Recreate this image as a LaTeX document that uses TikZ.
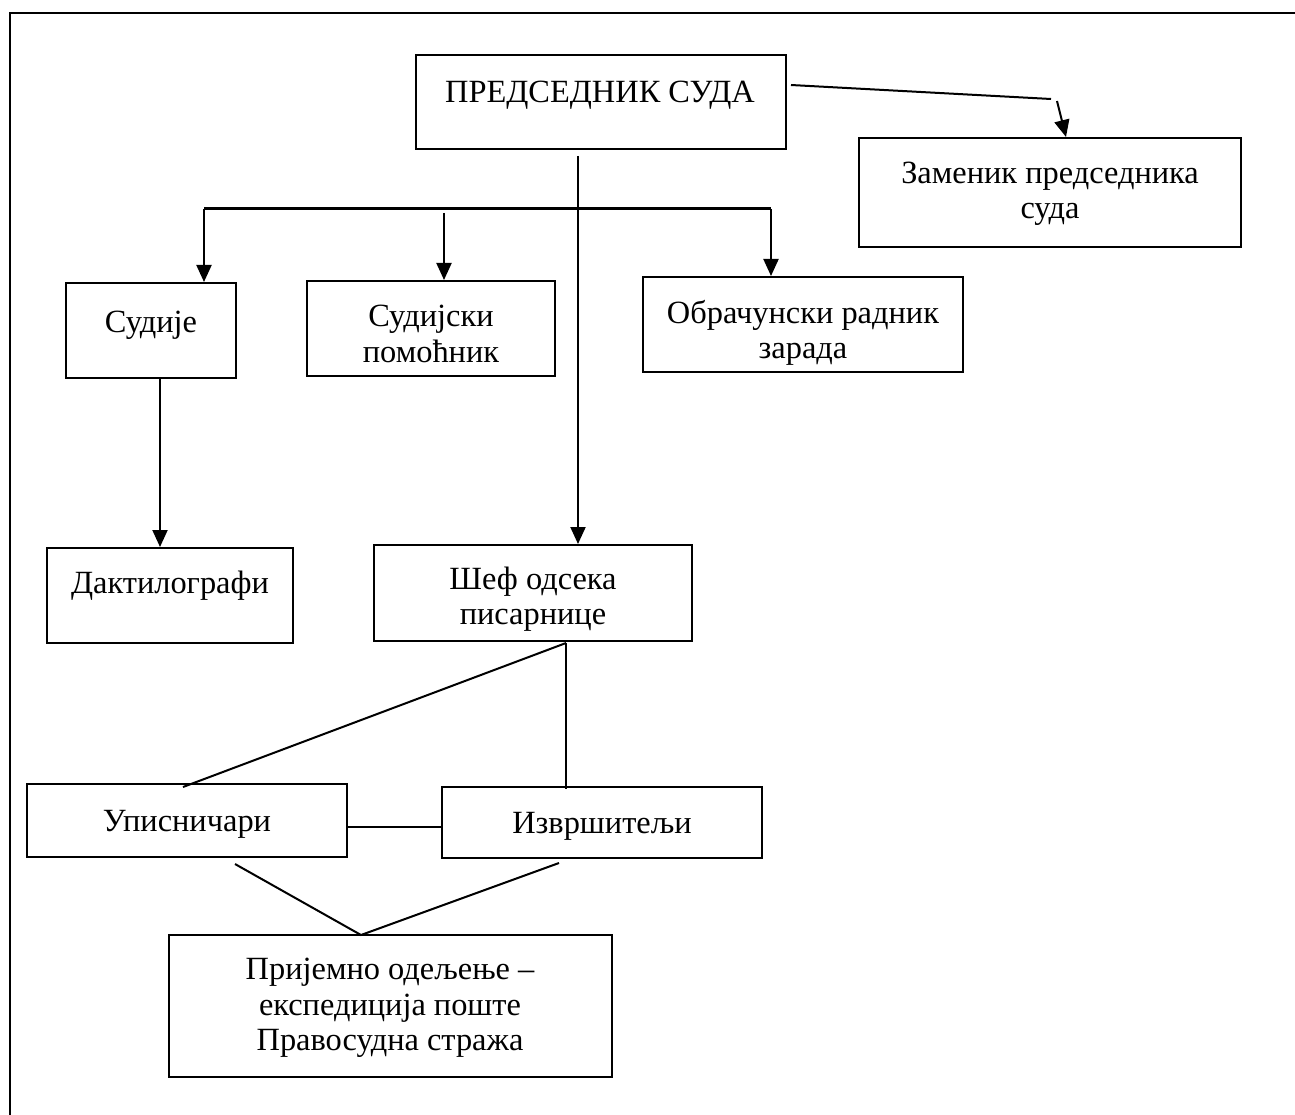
\documentclass[tikz,border=0pt]{standalone}
\usepackage{fontspec}
\setmainfont{Liberation Serif}
\usetikzlibrary{arrows.meta}
\begin{document}
\begin{tikzpicture}[x=1pt,y=-1pt,
  box/.style={draw,line width=2pt,inner sep=0pt},
  txt/.style={font=\fontsize{32.4}{35.5}\selectfont,align=center,inner sep=0pt},
  conn/.style={line width=2pt},
  arr/.style={conn,-{Triangle[length=17pt,width=15pt]}},
]
\useasboundingbox (0,0) rectangle (1295,1115);
% outer frame
\draw[line width=2.8pt] (10,1115) -- (10,13) -- (1295,13);

% boxes
\node[box,minimum width=370pt,minimum height=94pt] (pres) at (601,102) {};
\node[box,minimum width=382pt,minimum height=109pt] (zam) at (1050,192.5) {};
\node[box,minimum width=170pt,minimum height=95pt] (sud) at (151,330.5) {};
\node[box,minimum width=248pt,minimum height=95pt] (pom) at (431,328.5) {};
\node[box,minimum width=320pt,minimum height=95pt] (obr) at (803,324.5) {};
\node[box,minimum width=246pt,minimum height=95pt] (dakt) at (170,595.5) {};
\node[box,minimum width=318pt,minimum height=96pt] (shef) at (533,593) {};
\node[box,minimum width=320pt,minimum height=73pt] (upis) at (187,820.5) {};
\node[box,minimum width=320pt,minimum height=71pt] (izv) at (602,822.5) {};
\node[box,minimum width=443pt,minimum height=142pt] (prij) at (390.5,1006) {};

% texts
\node[txt] (tpres) at (600,95) {ПРЕДСЕДНИК СУДА};
\node[txt] (tzam) at (1050,194) {Заменик председника\\суда};
\node[txt] (tsud) at (151,325) {Судије};
\node[txt] (tpom) at (431,334) {Судијски\\помоћник};
\node[txt] (tobr) at (803,333) {Обрачунски радник\\зарада};
\node[txt] (tdakt) at (170,586) {Дактилографи};
\node[txt] (tshef) at (533,599) {Шеф одсека\\писарнице};
\node[txt] (tupis) at (187,824) {Уписничари};
\node[txt] (tizv) at (602,826) {Извршитељи};
\node[txt] (tprij) at (390,1008) {Пријемно одељење –\\експедиција поште\\Правосудна стража};

% helper coordinates
\coordinate (pz1) at (791,85);
\coordinate (pz2) at (1051,99);
\coordinate (pz3) at (1057,101);
\coordinate (pz4) at (1066,137);
\coordinate (cx) at (578,0);
\coordinate (busL) at (204,209);
\coordinate (busR) at (771,209);
\coordinate (busM) at (444,213);
\coordinate (sx) at (160,0);
\coordinate (sh) at (566,643);
\coordinate (up) at (183,787);
\coordinate (iz) at (566,789);
\coordinate (uy) at (0,827);
\coordinate (ul) at (235,864);
\coordinate (pj) at (361,935);
\coordinate (ir) at (559,863);

% connectors
\draw[conn] (pz1) -- (pz2);
\draw[arr] (pz3) -- (pz4);
\draw[arr,shorten <=6pt] (pres.south -| cx) -- (shef.north -| cx);
\draw[line width=3pt] (busL) -- (busR);
\draw[arr] (busL) -- (sud.north -| busL);
\draw[arr] (busM) -- (pom.north -| busM);
\draw[arr] (busR) -- (obr.north -| busR);
\draw[arr] (sud.south -| sx) -- (dakt.north -| sx);
\draw[conn] (sh) -- (up);
\draw[conn] (sh) -- (iz);
\draw[conn] (upis.east |- uy) -- (izv.west |- uy);
\draw[conn] (ul) -- (pj) -- (ir);
\end{tikzpicture}
\end{document}
